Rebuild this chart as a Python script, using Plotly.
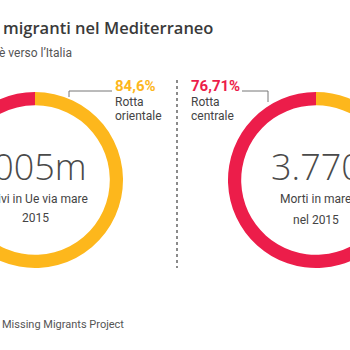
import plotly.graph_objects as go

# ---- data ----
left_labels = ["Rotta orientale", "Altre rotte"]
left_values = [84.6, 15.4]
right_labels = ["Altre rotte", "Rotta centrale"]
right_values = [23.29, 76.71]
left_pct_text = "84,6%"
right_pct_text = "76,71%"
left_big = "1.005m"
right_big = "3.770"
left_caption = ["Arrivi in Ue via mare", "2015"]
right_caption = ["Morti in mare", "nel 2015"]
title_text = "migranti nel Mediterraneo"
subtitle_text = "è verso l’Italia"
source_text = "Missing Migrants Project"

YELLOW = "#FDB71C"
RED = "#EC1D4A"
DARK = "#444444"

W, H = 460, 350
OFF = 53  # left part of canvas hidden off-screen


def px(wx):
    return (wx + OFF) / W


def py(wy):
    return 1 - wy / H


R = 88
CY = 180
LCX, RCX = 35, 316

fig = go.Figure()
fig.add_trace(go.Pie(
    labels=left_labels, values=left_values, hole=0.85, sort=False,
    direction="clockwise", rotation=0,
    marker=dict(colors=[YELLOW, RED], line=dict(width=0)),
    textinfo="none", hoverinfo="skip", showlegend=False,
    domain=dict(x=[px(LCX - R), px(LCX + R)], y=[py(CY + R), py(CY - R)]),
))
fig.add_trace(go.Pie(
    labels=right_labels, values=right_values, hole=0.85, sort=False,
    direction="clockwise", rotation=0,
    marker=dict(colors=[YELLOW, RED], line=dict(width=0)),
    textinfo="none", hoverinfo="skip", showlegend=False,
    domain=dict(x=[px(RCX - R), px(RCX + R)], y=[py(CY + R), py(CY - R)]),
))

ann = []


def text(wx, wy, s, size, color=DARK, anchor="left", family="Roboto", weight=400):
    ann.append(dict(x=px(wx), y=py(wy), xref="paper", yref="paper", text=s,
                    showarrow=False, xanchor=anchor, yanchor="middle", borderpad=0,
                    font=dict(family=family, size=size, color=color, weight=weight)))


text(2, 28, title_text, 16.5, "#3a3a3a", family="Open Sans", weight=600)
text(-2, 53, subtitle_text, 12, "#555555")
text(114, 86, left_pct_text, 15, YELLOW, weight=700)
text(114, 102, "Rotta", 12)
text(114, 115.5, "orientale", 12)
text(190, 86, right_pct_text, 15, RED, weight=700)
text(190, 102, "Rotta", 12)
text(190, 115.5, "centrale", 12)
text(88, 167, left_big, 36, "#4a4a4a", anchor="right", family="Open Sans", weight=300)
text(RCX, 167, right_big, 36, "#4a4a4a", anchor="center", family="Open Sans", weight=300)
text(89, 199, left_caption[0], 12, anchor="right")
text(LCX, 218, left_caption[1], 12, anchor="center")
text(RCX - 1, 199, right_caption[0], 12, anchor="center")
text(RCX, 220, right_caption[1], 12, anchor="center")
text(1, 324, source_text, 11, "#555555")

shapes = [
    dict(type="line", xref="paper", yref="paper", x0=px(177), x1=px(177),
         y0=py(80), y1=py(268), line=dict(color="#666666", width=1.5, dash="dot")),
    dict(type="path", xref="paper", yref="paper",
         path=f"M {px(69)} {py(97)} L {px(69)} {py(91)} L {px(112)} {py(91)}",
         line=dict(color="#777777", width=1)),
    dict(type="path", xref="paper", yref="paper",
         path=f"M {px(242)} {py(91)} L {px(268)} {py(91)} L {px(268)} {py(102)}",
         line=dict(color="#777777", width=1)),
]

fig.update_layout(width=W, height=H, margin=dict(l=0, r=0, t=0, b=0),
                  paper_bgcolor="white", plot_bgcolor="white",
                  annotations=ann, shapes=shapes, showlegend=False)

post = ("var gd=document.getElementById('{plot_id}');"
        f"gd.style.marginLeft='-{OFF}px';"
        "document.body.style.margin='0';"
        "document.body.style.overflow='hidden';"
        "document.documentElement.style.overflow='hidden';")
fig.write_html("out.html", config={"displayModeBar": False}, post_script=post)
